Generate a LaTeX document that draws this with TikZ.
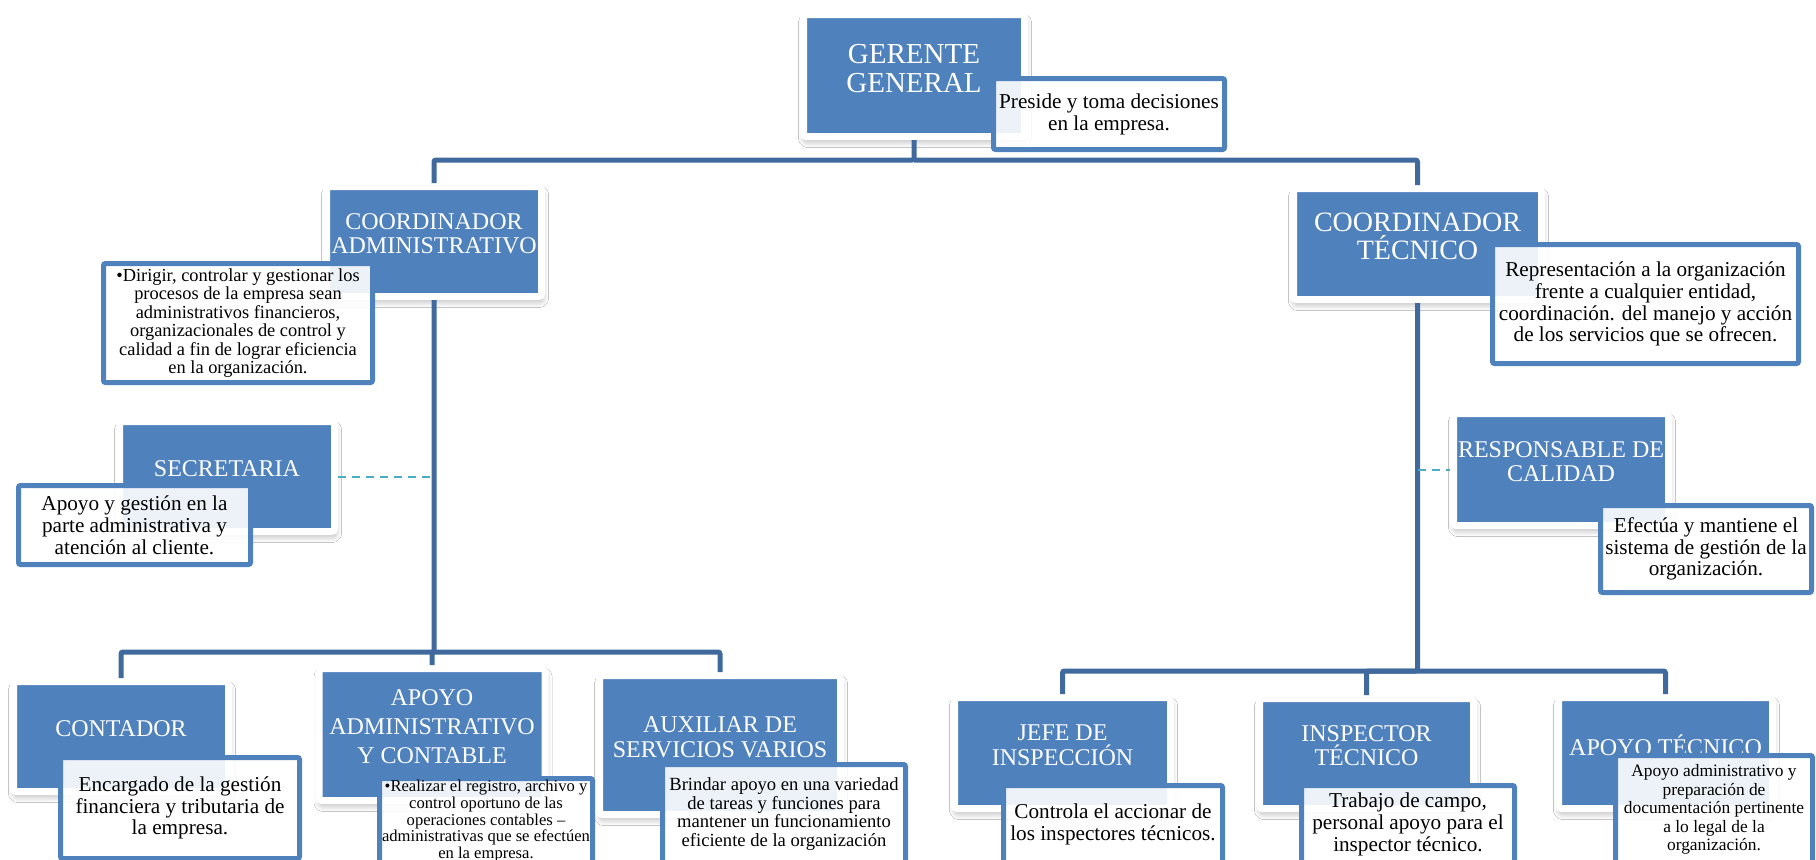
\documentclass[tikz,border=0pt]{standalone}
\usepackage{fontspec}
\setmainfont{Liberation Serif}
\usetikzlibrary{shadows.blur}
\definecolor{boxblue}{RGB}{79,129,189}
\definecolor{linkblue}{RGB}{64,105,158}
\definecolor{dashblue}{RGB}{75,172,198}
\tikzset{
  role/.style={fill=boxblue, draw=white, line width=3.5pt, rounded corners=1.5pt,
    blur shadow={shadow xshift=0.5pt, shadow yshift=-2.5pt, shadow blur radius=3pt, shadow blur steps=8, shadow opacity=30},
    text=white, align=center, inner sep=0pt, text depth=8pt,
    font=\fontsize{12}{12.4}\selectfont},
  note/.style={fill=white, fill opacity=.9, text opacity=1, draw=boxblue,
    line width=2.5pt, rounded corners=1pt, align=center, inner sep=0pt,
    font=\fontsize{10.6}{10.9}\selectfont},
  link/.style={draw=linkblue, line width=2.5pt, rounded corners=1pt},
  helper/.style={draw=dashblue, line width=1pt, dash pattern=on 4pt off 3pt}
}
\begin{document}
\begin{tikzpicture}[x=0.5pt,y=-0.5pt]
  \path[use as bounding box] (0,0) rectangle (1816,859);
  \clip (0,0) rectangle (1816,859);
  \fill[white] (0,0) rectangle (1816,859);
  \node[role, minimum width=110.5pt, minimum height=61pt, text depth=7pt, font=\fontsize{14.5}{14.2}\selectfont] (gg) at (914,75.5) {GERENTE\\GENERAL};
  \node[role, minimum width=107.5pt, minimum height=55pt] (ca) at (434,241.5) {COORDINADOR\\ADMINISTRATIVO};
  \node[role, minimum width=124pt, minimum height=55.5pt, font=\fontsize{14}{14.2}\selectfont] (ct) at (1417.5,244) {COORDINADOR\\TÉCNICO};
  \node[role, minimum width=107.5pt, minimum height=55pt] (sec) at (227,476.5) {SECRETARIA};
  \node[role, minimum width=107.5pt, minimum height=56pt] (rc) at (1561,469.5) {RESPONSABLE DE\\CALIDAD};
  \node[role, minimum width=107.5pt, minimum height=55pt] (cont) at (121,736.5) {CONTADOR};
  \node[role, minimum width=113pt, minimum height=66pt, font=\fontsize{12}{14.3}\selectfont] (aac) at (432,734.5) {APOYO\\ADMINISTRATIVO\\Y CONTABLE};
  \node[role, minimum width=120.5pt, minimum height=69.5pt] (aux) at (720,745) {AUXILIAR DE\\SERVICIOS VARIOS};
  \node[role, minimum width=108pt, minimum height=55.5pt] (jefe) at (1062.5,753) {JEFE DE\\INSPECCIÓN};
  \node[role, minimum width=107pt, minimum height=55pt] (insp) at (1366.5,753.5) {INSPECTOR\\TÉCNICO};
  \node[role, minimum width=107pt, minimum height=55.5pt] (at) at (1665.5,753) {APOYO TÉCNICO};
  \node[note, minimum width=115.5pt, minimum height=35.5pt] (ggd) at (1109,114) {Preside y toma decisiones\\en la empresa.};
  \node[note, minimum width=134.5pt, minimum height=59.5pt, font=\fontsize{9.2}{9.2}\selectfont] (cad) at (238,323) {•Dirigir, controlar y gestionar los\\procesos de la empresa sean\\administrativos financieros,\\organizacionales de control y\\calidad a fin de lograr eficiencia\\en la organización.};
  \node[note, minimum width=153pt, minimum height=59.5pt] (ctd) at (1645.5,304) {Representación a la organización\\frente a cualquier entidad,\\coordinación. del manejo y acción\\de los servicios que se ofrecen.};
  \node[note, minimum width=116pt, minimum height=39.5pt] (secd) at (134.5,525) {Apoyo y gestión en la\\parte administrativa y\\atención al cliente.};
  \node[note, minimum width=105.5pt, minimum height=43.5pt] (rcd) at (1706,549) {Efectúa y mantiene el\\sistema de gestión de la\\organización.};
  \node[note, minimum width=119.5pt, minimum height=50.5pt] (contd) at (180,808) {Encargado de la gestión\\financiera y tributaria de\\la empresa.};
  \node[note, minimum width=106.5pt, minimum height=42.5pt, font=\fontsize{8.3}{8.4}\selectfont] (aacd) at (486,821) {•Realizar el registro, archivo y\\control oportuno de las\\operaciones contables –\\administrativas que se efectúen\\en la empresa.};
  \node[note, minimum width=121.5pt, minimum height=49.5pt, font=\fontsize{9.3}{9.45}\selectfont] (auxd) at (784,814) {Brindar apoyo en una variedad\\de tareas y funciones para\\mantener un funcionamiento\\eficiente de la organización};
  \node[note, minimum width=109.5pt, minimum height=39pt] (jefed) at (1113,824.5) {Controla el accionar de\\los inspectores técnicos.};
  \node[note, minimum width=106.5pt, minimum height=39pt] (inspd) at (1408,824.5) {Trabajo de campo,\\personal apoyo para el\\inspector técnico.};
  \node[note, minimum width=98.5pt, minimum height=54pt, font=\fontsize{8.7}{9.3}\selectfont] (atd) at (1714,809.5) {Apoyo administrativo y\\preparación de\\documentación pertinente\\a lo legal de la\\organización.};
  \coordinate (bustop) at (914,160);
  \coordinate (busca) at (434,652);
  \coordinate (busct) at (1417.5,671);
  \draw[link] (gg.south) -- (bustop) -| (ca.north);
  \draw[link] (bustop) -| (ct.north);
  \draw[link] (ca.south) -- (busca) -| (cont.north);
  \draw[link] (busca) -| (aac.north);
  \draw[link] (busca) -| (aux.north);
  \draw[link] (ct.south) -- (busct) -| (jefe.north);
  \draw[link] (busct) -| (insp.north);
  \draw[link] (busct) -| (at.north);
  \draw[helper] (sec.east) -- (sec.east -| ca);
  \draw[helper] (rc.west -| ct) -- (rc.west);
\end{tikzpicture}
\end{document}
